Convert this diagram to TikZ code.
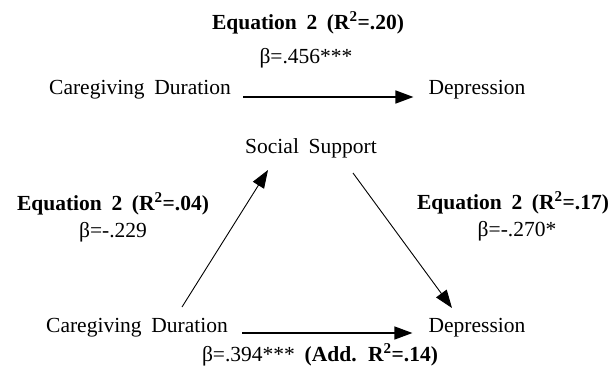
\documentclass[tikz,border=0pt]{standalone}
\usepackage{fontspec}
\setmainfont[WordSpace=1.8]{Liberation Serif}
\usetikzlibrary{arrows.meta}

\tikzset{
  lbl/.style={inner sep=0pt, anchor=base, font=\fontsize{21.5}{25}\selectfont},
  eqn/.style={lbl, font=\fontsize{21.5}{25}\selectfont\bfseries},
  path/.style={line width=0.9pt, -{Triangle[length=18pt,width=13pt]}}
}

\begin{document}
\begin{tikzpicture}[x=1pt,y=-1pt]
      \useasboundingbox (0,0) rectangle (614,365);
      % total effect
      \node[eqn] (eqtop) at (308,29) {Equation 2 (R\textsuperscript{2}=.20)};
      \node[lbl] (betatop) at (306,63) {β=.456***};
      \node[lbl] (cdtop) at (140,94) {Caregiving Duration};
      \node[lbl] (deptop) at (477,94) {Depression};
      \draw[path, line width=1.6pt, shorten <=12pt, shorten >=15pt]
        ([yshift=-3pt]cdtop.base east) -- ([yshift=-3pt]deptop.base west);
      % mediator
      \node[lbl] (social) at (311,153) {Social Support};
      \node[eqn] (eqleft) at (113,210) {Equation 2 (R\textsuperscript{2}=.04)};
      \node[lbl] (betaleft) at (113,237) {β=-.229};
      \node[eqn] (eqright) at (513,209) {Equation 2 (R\textsuperscript{2}=.17)};
      \node[lbl] (betaright) at (517,236) {β=-.270*};
      % direct effect
      \node[lbl] (cdbot) at (137,332) {Caregiving Duration};
      \node[lbl] (depbot) at (477,332) {Depression};
      \node[lbl] (betabot) at (320,361) {β=.394*** \textbf{(Add. R\textsuperscript{2}=.14)}};
      \coordinate (ltail) at (182,307);
      \coordinate (lhead) at (268,170);
      \coordinate (rtail) at (353,173);
      \coordinate (rhead) at (452,308);
      \draw[path] (ltail) -- (lhead);
      \draw[path] (rtail) -- (rhead);
      \draw[path, line width=1.3pt, shorten <=14pt, shorten >=16pt]
        ([yshift=-1pt]cdbot.base east) -- ([yshift=-1pt]depbot.base west);
    \end{tikzpicture}
\end{document}
